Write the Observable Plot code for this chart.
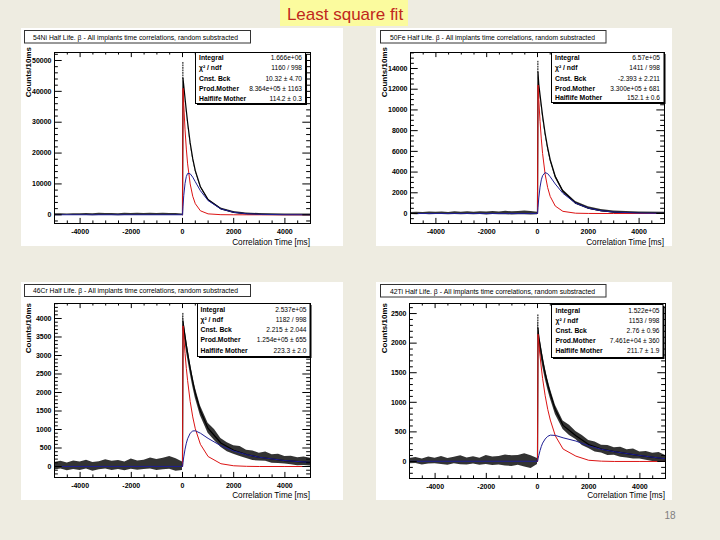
<!DOCTYPE html>
<html><head><meta charset="utf-8">
<script src="https://cdn.jsdelivr.net/npm/d3@7"></script>
<script src="https://cdn.jsdelivr.net/npm/@observablehq/plot@0.6"></script>
<style>
html,body{margin:0;padding:0;background:#eeece1;}
#slide{position:relative;width:720px;height:540px;background:#eeece1;overflow:hidden;font-family:"Liberation Sans",Arial,sans-serif;}
#ov{position:absolute;left:0;top:0;}
</style></head><body><div id="slide"></div>
<script>
// ---------------- DATA ----------------
const slideTitle = "Least square fit";
const slideNumber = "18";
const titles = [
  "54Ni Half Life. β - All implants time correlations, random substracted",
  "50Fe Half Life. β - All implants time correlations, random substracted",
  "46Cr Half Life. β - All implants time correlations, random substracted",
  "42Ti Half Life. β - All implants time correlations, random substracted"
];
const yTitle = "Counts/10ms";
const xTitle = "Correlation Time [ms]";
const statLabels = ["Integral", "χ² / ndf", "Cnst. Bck", "Prod.Mother", "Halflife Mother"];
const stats54Ni = ["1.666e+06", "1160 / 998", "10.32 ± 4.70", "8.364e+05 ± 1163", "114.2 ± 0.3"];
const stats50Fe = ["6.57e+05", "1411 / 998", "-2.393 ± 2.211", "3.300e+05 ± 681", "152.1 ± 0.6"];
const stats46Cr = ["2.537e+05", "1182 / 998", "2.215 ± 2.044", "1.254e+05 ± 655", "223.3 ± 2.0"];
const stats42Ti = ["1.522e+05", "1153 / 998", "2.76 ± 0.96", "7.461e+04 ± 360", "211.7 ± 1.9"];
const bckValues = [10.32, -2.393, 2.215, 2.76];

const xMajor = [-4000, -2000, 0, 2000, 4000];
const yMajor54Ni = [0, 10000, 20000, 30000, 40000, 50000];
const yMajor50Fe = [0, 2000, 4000, 6000, 8000, 10000, 12000, 14000];
const yMajor46Cr = [0, 500, 1000, 1500, 2000, 2500, 3000, 3500, 4000];
const yMajor42Ti = [0, 500, 1000, 1500, 2000, 2500];

// time grid (ms) of the read-off points after the implant
const tFit = [0, 20, 50, 100, 150, 200, 300, 400, 500, 700, 1000, 1500, 2000, 2500, 3000, 4000, 5000];
// time grid before the implant (noise band)
const tNeg = [-5000,-4750,-4500,-4250,-4000,-3750,-3500,-3250,-3000,-2750,-2500,-2250,-2000,-1750,-1500,-1250,-1000,-750,-500,-250];
// extra tail points of the noise band (bottom panels)
const tTail = [1250, 1750, 2250, 2750, 3250, 3500, 3750, 4250, 4500, 4750];

// 54Ni
const red54Ni   = [0, 41000, 35500, 27500, 21300, 16500, 10000, 6000, 3600, 1300, 300, 40, 5, 0, 0, 0, 0];
const blue54Ni  = [10, 2800, 6300, 10200, 12400, 13400, 13300, 12200, 10700, 7800, 4600, 1900, 800, 330, 150, 40, 15];
const black54Ni = [10, 44200, 41800, 37700, 33700, 29900, 23300, 18200, 14300, 9100, 4900, 1940, 805, 330, 150, 40, 15];
const hi54Ni    = [250, 44450, 42050, 37950, 33950, 30150, 23550, 18450, 14550, 9350, 5150, 2190, 1055, 580, 400, 290, 265];
const lo54Ni    = [-200, 43950, 41550, 37450, 33450, 29650, 23050, 17950, 14050, 8850, 4650, 1690, 555, 80, -100, -210, -235];
const negHi54Ni = [300,350,260,380,320,420,350,480,400,450,380,500,420,470,390,520,430,480,450,400];
const negLo54Ni = [-200,-250,-170,-260,-210,-230,-280,-200,-250,-210,-270,-230,-200,-250,-220,-240,-200,-230,-260,-210];
const tailHi54Ni = [];
const tailLo54Ni = [];

// 50Fe
const red50Fe   = [0, 12400, 11000, 8900, 7200, 5800, 3800, 2500, 1650, 720, 210, 30, 5, 0, 0, 0, 0];
const blue50Fe  = [-2, 600, 1500, 2550, 3250, 3650, 3950, 3850, 3550, 2850, 1950, 1000, 520, 270, 140, 40, 10];
const black50Fe = [0, 13650, 12500, 11450, 10450, 9450, 7750, 6350, 5200, 3570, 2160, 1030, 525, 270, 140, 40, 10];
const hi50Fe    = [110, 13800, 12650, 11600, 10600, 9600, 7900, 6500, 5350, 3720, 2300, 1160, 650, 380, 240, 140, 110];
const lo50Fe    = [-110, 13500, 12350, 11300, 10300, 9300, 7600, 6200, 5050, 3420, 2020, 900, 400, 160, 40, -60, -100];
const negHi50Fe = [100,130,90,150,110,140,100,170,130,160,120,180,150,200,140,210,170,200,230,190];
const negLo50Fe = [-90,-120,-80,-130,-100,-90,-120,-100,-130,-90,-120,-100,-140,-100,-120,-110,-140,-120,-130,-150];
const tailHi50Fe = [];
const tailLo50Fe = [];

// 46Cr
const red46Cr   = [0, 3800, 3500, 3050, 2650, 2320, 1760, 1340, 1020, 600, 270, 75, 20, 5, 0, 0, 0];
const blue46Cr  = [2, 110, 260, 470, 630, 750, 900, 960, 965, 900, 760, 560, 420, 320, 250, 160, 110];
const black46Cr = [2, 3910, 3760, 3520, 3280, 3070, 2660, 2300, 1985, 1500, 1030, 635, 440, 325, 250, 160, 110];
const hi46Cr    = [120, 4120, 3950, 3700, 3450, 3230, 2810, 2450, 2130, 1640, 1170, 760, 560, 440, 360, 270, 220];
const lo46Cr    = [-110, 3700, 3580, 3350, 3120, 2920, 2520, 2160, 1850, 1370, 900, 520, 330, 215, 150, 65, 15];
const negHi46Cr = [110,140,95,150,120,170,105,130,180,140,160,120,200,150,170,230,190,220,270,210];
const negLo46Cr = [-95,-70,-115,-80,-105,-65,-125,-90,-70,-105,-80,-115,-75,-100,-80,-65,-110,-90,-75,-130];
const tailHi46Cr = [1000, 640, 540, 420, 390, 320, 330, 280, 240, 260];
const tailLo46Cr = [700, 400, 270, 160, 140, 90, 80, 50, 20, 30];

// 42Ti
const red42Ti   = [0, 2150, 2000, 1780, 1580, 1400, 1110, 880, 700, 430, 210, 90, 20, 5, 0, 0, 0];
const blue42Ti  = [3, 45, 100, 185, 255, 310, 380, 425, 445, 440, 400, 345, 265, 205, 165, 100, 45];
const black42Ti = [3, 2250, 2100, 1965, 1835, 1710, 1490, 1305, 1145, 870, 610, 435, 285, 210, 165, 100, 45];
const hi42Ti    = [50, 2400, 2230, 2080, 1945, 1815, 1585, 1395, 1230, 950, 685, 505, 355, 275, 230, 160, 100];
const lo42Ti    = [-50, 2140, 1980, 1855, 1730, 1610, 1400, 1220, 1065, 795, 540, 370, 220, 145, 105, 40, -10];
const negHi42Ti = [50,65,40,75,55,85,50,70,95,60,80,55,100,75,85,110,95,100,130,95];
const negLo42Ti = [-40,-35,-60,-45,-40,-50,-65,-40,-55,-60,-45,-65,-50,-70,-60,-75,-85,-65,-95,-120];
const tailHi42Ti = [610, 440, 330, 270, 240, 200, 210, 170, 140, 150];
const tailLo42Ti = [440, 270, 160, 100, 70, 60, 40, 20, 0, 0];

// top of the first-bin error bar
const peakTop = [49700, 14700, 4150, 2500];

// ---------------- LAYOUT / STYLE ----------------
const RED = "#dc1414", BLUE = "#1f1f95";
const FONT = "Liberation Sans, Arial, sans-serif";
const panels = [
  {red:red54Ni, blue:blue54Ni, black:black54Ni, hi:hi54Ni, lo:lo54Ni, nHi:negHi54Ni, nLo:negLo54Ni, tHi:tailHi54Ni, tLo:tailLo54Ni, yMajor:yMajor54Ni, yMinor:2000, yDomain:[-2820,52590], stats:stats54Ni,
   box:{left:21, top:28, w:322, h:218}, frame:{x0:54, x1:310, y0:52, y1:223},
   tBox:{x:24.5, y:30.5, w:226, h:12.5, tx:33, tl:205}, sBox:{x:195.5, y:52.5, w:110, h:51, lx:199, vx:302, rows:[60,70,80.5,90.5,100.5]},
   yT:{x:31, y:47}, xT:{x:310, y:244.5}},
  {red:red50Fe, blue:blue50Fe, black:black50Fe, hi:hi50Fe, lo:lo50Fe, nHi:negHi50Fe, nLo:negLo50Fe, tHi:tailHi50Fe, tLo:tailLo50Fe, yMajor:yMajor50Fe, yMinor:500, yDomain:[-965,15545], stats:stats50Fe,
   box:{left:376, top:28, w:296, h:218}, frame:{x0:410, x1:664, y0:52, y1:223},
   tBox:{x:380.5, y:30.5, w:225.5, h:12.5, tx:390, tl:205}, sBox:{x:551.5, y:52.5, w:112.5, h:50, lx:555, vx:660, rows:[60,70,80.5,90.5,100]},
   yT:{x:387, y:47}, xT:{x:664, y:244.5}},
  {red:red46Cr, blue:blue46Cr, black:black46Cr, hi:hi46Cr, lo:lo46Cr, nHi:negHi46Cr, nLo:negLo46Cr, tHi:tailHi46Cr, tLo:tailLo46Cr, yMajor:yMajor46Cr, yMinor:100, yDomain:[-297,4405], stats:stats46Cr,
   box:{left:21, top:282, w:322, h:218}, frame:{x0:54, x1:310, y0:303, y1:477},
   tBox:{x:24.5, y:284.5, w:226, h:12, tx:33, tl:205}, sBox:{x:197.5, y:303.5, w:112.5, h:53, lx:200.5, vx:306.5, rows:[311.5,321.5,331.5,342,352.5]},
   yT:{x:31, y:303}, xT:{x:310, y:497.5}},
  {red:red42Ti, blue:blue42Ti, black:black42Ti, hi:hi42Ti, lo:lo42Ti, nHi:negHi42Ti, nLo:negLo42Ti, tHi:tailHi42Ti, tLo:tailLo42Ti, yMajor:yMajor42Ti, yMinor:100, yDomain:[-288,2670], stats:stats42Ti,
   box:{left:376, top:282, w:296, h:218}, frame:{x0:409, x1:665, y0:303, y1:478},
   tBox:{x:380.5, y:284.5, w:225.5, h:12.5, tx:390, tl:205}, sBox:{x:551.5, y:304.5, w:111.5, h:53, lx:555.5, vx:659.5, rows:[312.5,322.5,332.5,342.5,352.5]},
   yT:{x:387, y:303}, xT:{x:665, y:497.5}}
];

const slide = document.getElementById("slide");

panels.forEach((P, i) => {
  const B = P.box, F = P.frame;
  const iw = F.x1 - F.x0, ih = F.y1 - F.y0;
  const fit = tFit.map((t, k) => ({t, black: P.black[k], red: P.red[k], blue: P.blue[k]}));
  const band = d3.sort(
    tNeg.map((t, k) => ({t, lo: P.nLo[k], hi: P.nHi[k]}))
      .concat(tFit.map((t, k) => ({t, lo: P.lo[k], hi: P.hi[k]})))
      .concat(P.tHi.map((h, k) => ({t: tTail[k], lo: P.tLo[k], hi: h}))),
    d => d.t);
  const blueLine = [{t: -5000, v: bckValues[i]}].concat(tFit.map((t, k) => ({t, v: P.blue[k]})));
  const errBar = [{t: 15, v: P.black[1]}, {t: 15, v: peakTop[i]}];
  const xMinor = d3.range(-5000, 5001, 500).filter(v => !xMajor.includes(v));
  const yMinor = d3.range(Math.ceil(P.yDomain[0] / P.yMinor) * P.yMinor, P.yDomain[1], P.yMinor).filter(v => !P.yMajor.includes(v));
  const xL = 5.1, yL = 7.7;
  const fig = Plot.plot({
    width: B.w, height: B.h,
    marginLeft: F.x0 - B.left, marginRight: B.left + B.w - F.x1,
    marginTop: F.y0 - B.top, marginBottom: B.top + B.h - F.y1,
    x: {domain: [-5000, 5000]},
    y: {domain: P.yDomain},
    style: {background: "white", fontFamily: FONT, fontSize: "7px", fontWeight: "bold", color: "#000", overflow: "visible"},
    marks: [
      Plot.areaY(band, {x: "t", y1: "lo", y2: "hi", fill: "#000", fillOpacity: 0.8, clip: true}),
      Plot.line(fit, {x: "t", y: "black", stroke: "#000", strokeWidth: 1.2, clip: true}),
      Plot.line(errBar, {x: "t", y: "v", stroke: "#000", strokeWidth: 1, strokeDasharray: "1,1.5", clip: true}),
      Plot.line(fit, {x: "t", y: "red", stroke: RED, strokeWidth: 1, clip: true}),
      Plot.line(blueLine, {x: "t", y: "v", stroke: BLUE, strokeWidth: 1, clip: true}),
      Plot.frame({stroke: "#000", strokeWidth: 1}),
      Plot.tickX(xMajor, {x: d => d, insetTop: ih - xL, stroke: "#000"}),
      Plot.tickX(xMajor, {x: d => d, insetBottom: ih - xL, stroke: "#000"}),
      Plot.tickX(xMinor, {x: d => d, insetTop: ih - xL / 2, stroke: "#000"}),
      Plot.tickX(xMinor, {x: d => d, insetBottom: ih - xL / 2, stroke: "#000"}),
      Plot.tickY(P.yMajor, {y: d => d, insetRight: iw - yL, stroke: "#000"}),
      Plot.tickY(P.yMajor, {y: d => d, insetLeft: iw - yL, stroke: "#000"}),
      Plot.tickY(yMinor, {y: d => d, insetRight: iw - yL / 2, stroke: "#000"}),
      Plot.tickY(yMinor, {y: d => d, insetLeft: iw - yL / 2, stroke: "#000"}),
      Plot.axisX(xMajor, {anchor: "bottom", tickSize: 0, tickPadding: 6, label: null, tickFormat: d => String(d), fontSize: 7, fontWeight: "bold"}),
      Plot.axisY(P.yMajor, {anchor: "left", tickSize: 0, tickPadding: 3, label: null, tickFormat: d => String(d), fontSize: 7, fontWeight: "bold"})
    ]
  });
  const wrap = document.createElement("div");
  wrap.style.cssText = `position:absolute;left:${B.left}px;top:${B.top}px;width:${B.w}px;height:${B.h}px;`;
  wrap.appendChild(fig);
  slide.appendChild(wrap);
});

// ---------------- OVERLAY TEXT ----------------
const ov = d3.select(slide).append("svg").attr("id", "ov").attr("width", 720).attr("height", 540)
  .style("font-family", FONT);

ov.append("rect").attr("x", 280).attr("y", 0).attr("width", 128).attr("height", 26).attr("fill", "#fbfb9e");
ov.append("text").attr("x", 345).attr("y", 19.5).attr("text-anchor", "middle").attr("font-size", 17)
  .attr("fill", "#c0281c").text(slideTitle);
ov.append("text").attr("x", 670).attr("y", 518.5).attr("text-anchor", "middle").attr("font-size", 10)
  .attr("fill", "#7f7f7f").text(slideNumber);

panels.forEach((P, i) => {
  const T = P.tBox, S = P.sBox;
  ov.append("rect").attr("x", T.x).attr("y", T.y).attr("width", T.w).attr("height", T.h)
    .attr("fill", "white").attr("stroke", "#333").attr("stroke-width", 1);
  ov.append("text").attr("x", T.tx).attr("y", T.y + T.h - 3.5).attr("font-size", 6.6)
    .attr("textLength", T.tl).attr("lengthAdjust", "spacingAndGlyphs").attr("fill", "#000").text(titles[i]);
  ov.append("rect").attr("x", S.x + 1.5).attr("y", S.y + 1.5).attr("width", S.w).attr("height", S.h).attr("fill", "#000");
  ov.append("rect").attr("x", S.x).attr("y", S.y).attr("width", S.w).attr("height", S.h)
    .attr("fill", "white").attr("stroke", "#000").attr("stroke-width", 1);
  statLabels.forEach((lab, r) => {
    ov.append("text").attr("x", S.lx).attr("y", S.rows[r]).attr("font-size", 6.8).attr("font-weight", "bold").text(lab);
    ov.append("text").attr("x", S.vx).attr("y", S.rows[r]).attr("font-size", 6.6).attr("text-anchor", "end").text(P.stats[r]);
  });
  ov.append("text").attr("transform", `translate(${P.yT.x},${P.yT.y}) rotate(-90)`).attr("text-anchor", "end")
    .attr("font-size", 8).attr("font-weight", "bold").text(yTitle);
  ov.append("text").attr("x", P.xT.x).attr("y", P.xT.y).attr("text-anchor", "end").attr("font-size", 8.2).text(xTitle);
});
</script></body></html>
